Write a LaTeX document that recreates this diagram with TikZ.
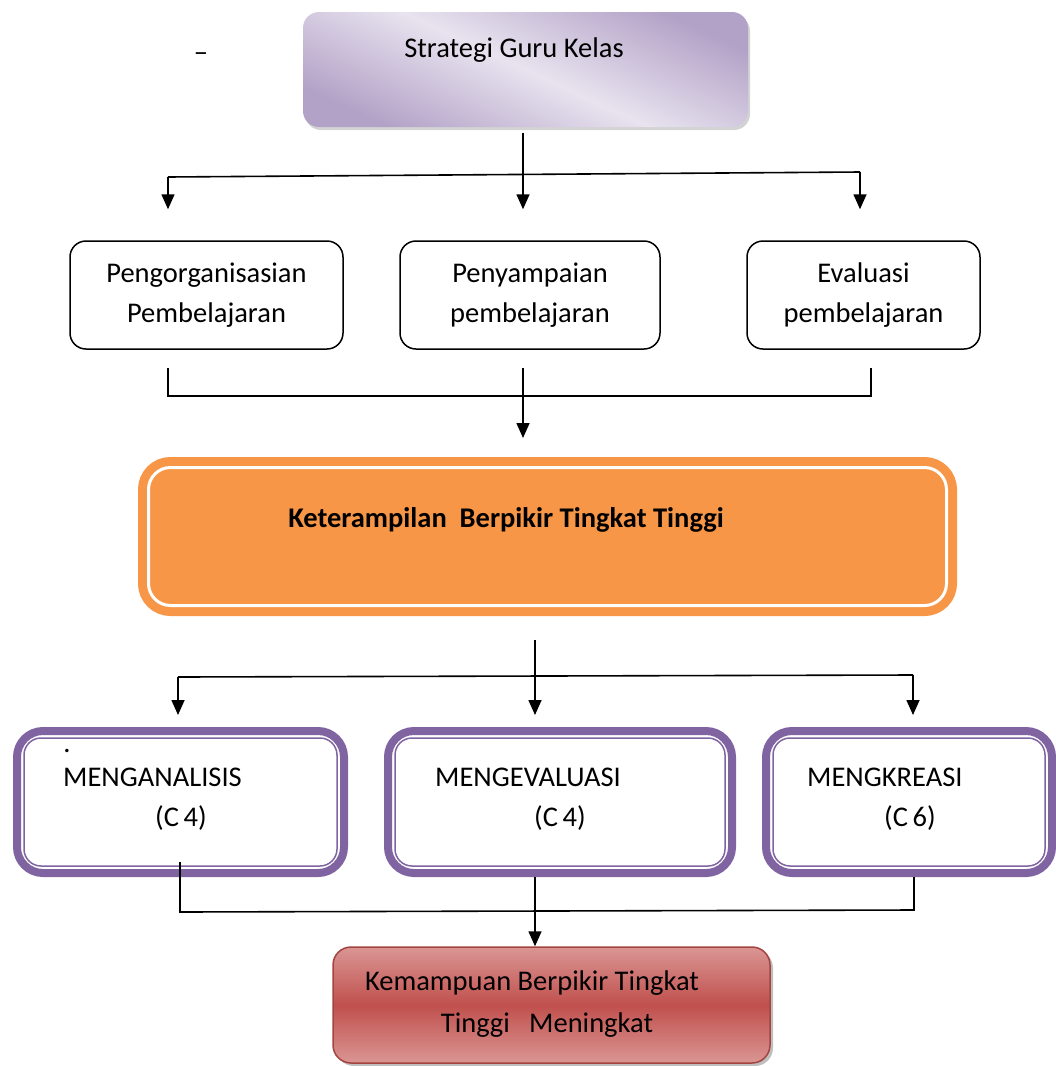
\documentclass[tikz,border=0pt]{standalone}
\usepackage{fontspec}
\setmainfont{Carlito}
\usetikzlibrary{arrows.meta, shadows}
\definecolor{sgPurple}{HTML}{B3A2C7}
\definecolor{sgLight}{HTML}{E8E3EF}
\definecolor{kbOrange}{HTML}{F79646}
\definecolor{mgPurple}{HTML}{8064A2}
\definecolor{kmRed}{HTML}{C0504D}
\definecolor{kmLight}{HTML}{DA9694}

\tikzset{
  arr/.style={-{Triangle[width=13pt,length=15pt]}, line width=1.6pt},
  link/.style={line width=1.6pt},
  lbl/.style={inner sep=0pt},
  topbox/.style={rounded corners=16pt, top color=sgPurple, bottom color=sgPurple,
    middle color=sgLight, shading angle=-25,
    drop shadow={shadow xshift=2pt, shadow yshift=-3pt, opacity=.35}},
  stepbox/.style={draw, line width=1.5pt, rounded corners=16pt, align=center,
    font=\fontsize{28.5}{40}\selectfont},
  kbtbox/.style={draw=kbOrange, fill=kbOrange, line width=9pt, double=white,
    double distance=3pt, rounded corners=22pt},
  mgbox/.style={draw=mgPurple, fill=white, line width=8pt, rounded corners=26pt},
  mginner/.style={draw=mgPurple, line width=1.5pt, rounded corners=17pt},
  kmbox/.style={draw=kmRed!85!black, line width=1.5pt, rounded corners=18pt,
    top color=kmLight, bottom color=kmLight, middle color=kmRed,
    drop shadow={shadow xshift=3pt, shadow yshift=-3pt, opacity=.5}}
}

\begin{document}
\begin{tikzpicture}[x=1pt, y=-1pt, font=\fontsize{28.5}{34}\selectfont]
\useasboundingbox (0,0) rectangle (1056,1066);

% Strategi guru
\node[topbox, minimum width=445pt, minimum height=115pt] (strat) at (525.5,69.5) {};
\node[lbl] (strat-t) at (514,50) {Strategi Guru Kelas};
\node[lbl] (dash) at (201,57) {–};

% three strategies
\node[stepbox, minimum width=273pt, minimum height=108pt] (org) at (206.5,295) {Pengorganisasian\\Pembelajaran};
\node[stepbox, minimum width=260pt, minimum height=108pt] (pen) at (530,295) {Penyampaian\\pembelajaran};
\node[stepbox, minimum width=233pt, minimum height=108pt] (eva) at (863.5,295) {Evaluasi\\pembelajaran};

\coordinate (sh-l) at (168,177);
\coordinate (sh-r) at (860,172);
\draw[arr, shorten <=6pt, shorten >=31pt] ([xshift=-2.5pt]strat.south) -- ([xshift=-2.5pt]strat.south |- pen.north);
\draw[link] (sh-l) -- (sh-r);
\draw[arr, shorten >=31pt] (sh-l) -- (sh-l |- org.north);
\draw[arr, shorten >=31pt] (sh-r) -- (sh-r |- eva.north);

% join to HOTS
\coordinate (jl) at (168,368);
\coordinate (jr) at (871,368);
\coordinate (jm) at (523,368);
\draw[link] (jl) -- ++(0,28) -| (jr);
\draw[arr] (jm) -- ++(0,70);

% HOTS
\node[kbtbox, minimum width=798pt, minimum height=138pt] (kbt) at (547.5,536.5) {};
\node[lbl, font=\fontsize{28.5}{34}\selectfont\bfseries] (kbt-t) at (506,520) {Keterampilan\ \ Berpikir Tingkat Tinggi};

\coordinate (k0) at (535,640);
\coordinate (kh-l) at (178,677);
\coordinate (kh-r) at (913,675);
\draw[arr] (k0) -- ++(0,75);
\draw[link] (kh-l) -- (kh-r);
\draw[arr] (kh-l) -- ++(0,38);
\draw[arr] (kh-r) -- ++(0,40);

% C4 - C6
\node[mgbox, minimum width=327pt, minimum height=142pt] (ana) at (180.5,802) {};
\node[mgbox, minimum width=344pt, minimum height=142pt] (mge) at (560,802) {};
\node[mgbox, minimum width=286pt, minimum height=142pt] (kre) at (909,802) {};
\foreach \b in {ana, mge, kre}
  \draw[mginner] ([xshift=11pt, yshift=-11pt]\b.north west) rectangle ([xshift=-11pt, yshift=11pt]\b.south east);

\node[lbl] (ana-d) at (67,751) {.};
\node[lbl, anchor=west] (ana-t) at (63,777) {MENGANALISIS};
\node[lbl] (ana-c) at (181,818) {(C\,4)};
\node[lbl, anchor=west] (mge-t) at (435,777) {MENGEVALUASI};
\node[lbl] (mge-c) at (560,818) {(C\,4)};
\node[lbl, anchor=west] (kre-t) at (807,777) {MENGKREASI};
\node[lbl] (kre-c) at (910,818) {(C\,6)};

% result
\node[kmbox, minimum width=437pt, minimum height=116pt] (kmt) at (551.5,1005) {};
\node[lbl] (kmt-t1) at (532,983) {Kemampuan Berpikir Tingkat};
\node[lbl] (kmt-t2) at (547,1025) {Tinggi\ \ \ Meningkat};

\coordinate (ml) at (180,862);
\coordinate (mr) at (914,877);
\draw[link] (ml) -- ++(0,50) -- (914,910) -- (mr);
\draw[arr] ([xshift=-25pt]mge.south) -- ([xshift=-25pt]mge.south |- kmt.north);
\end{tikzpicture}
\end{document}
